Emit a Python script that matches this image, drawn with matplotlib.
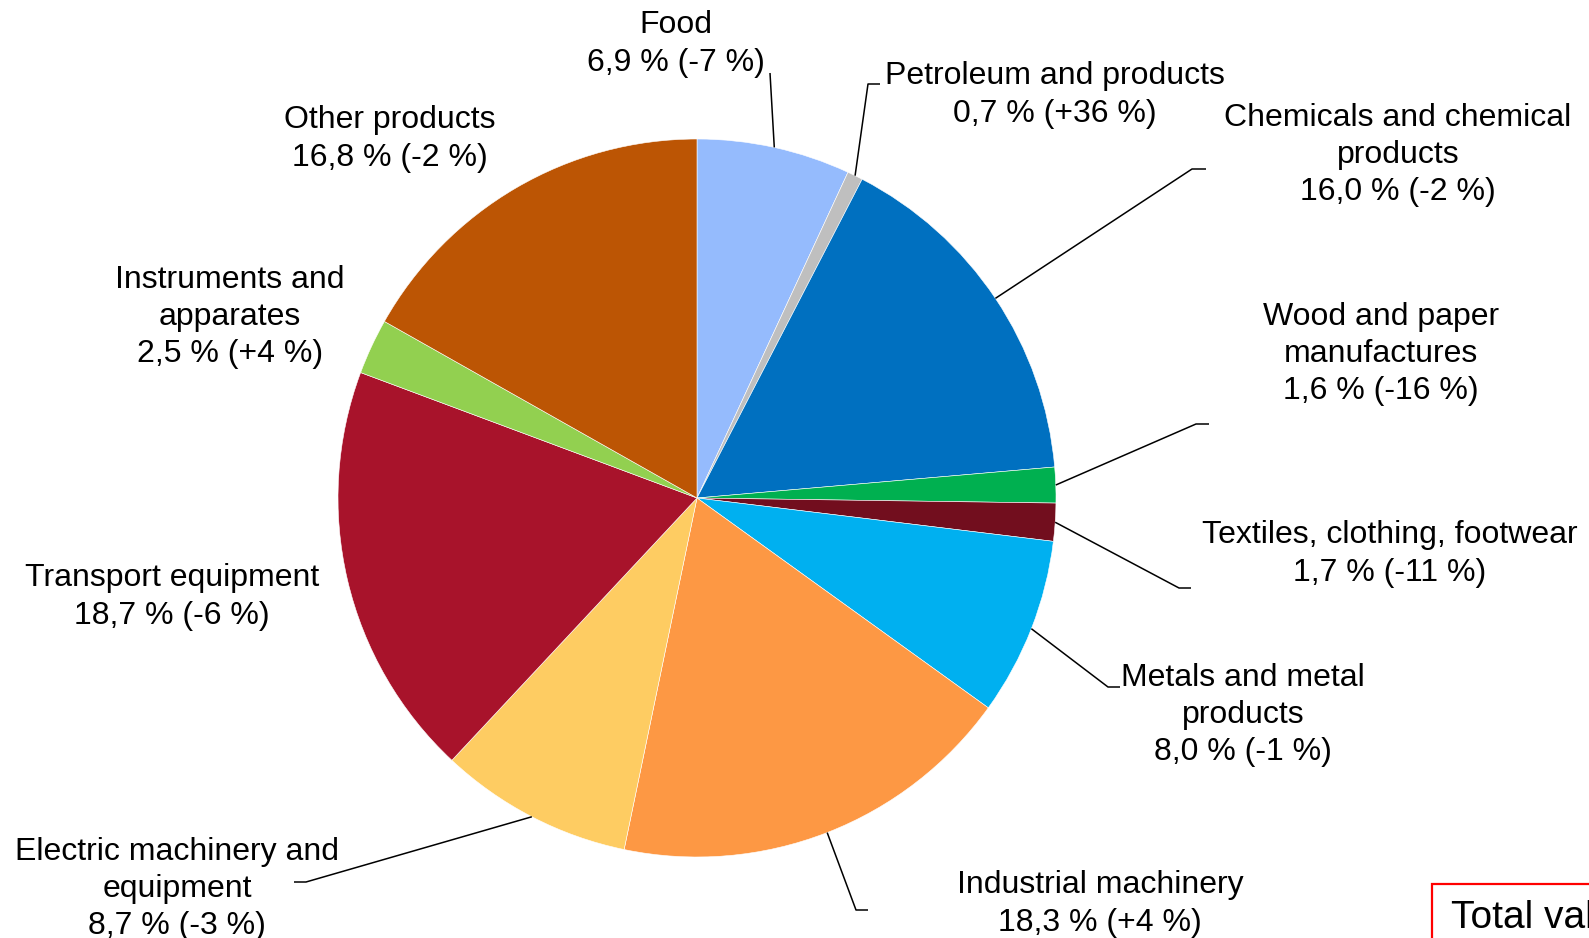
import matplotlib
matplotlib.use("Agg")
import matplotlib.pyplot as plt
from matplotlib.patches import Rectangle
import numpy as np

plt.rcParams['font.family'] = ['Liberation Sans', 'DejaVu Sans']

# Share of exports by product group, % (and change on previous year)
categories = [
    "Food", "Petroleum and products", "Chemicals and chemical\nproducts",
    "Wood and paper\nmanufactures", "Textiles, clothing, footwear",
    "Metals and metal\nproducts", "Industrial machinery",
    "Electric machinery and\nequipment", "Transport equipment",
    "Instruments and\napparates", "Other products",
]
shares = [6.9, 0.7, 16.0, 1.6, 1.7, 8.0, 18.3, 8.7, 18.7, 2.5, 16.8]
changes = [-7, 36, -2, -16, -11, -1, 4, -3, -6, 4, -2]
colors = ["#95BBFD", "#BFBFBF", "#0070C0", "#00B050", "#720E1E", "#00B0F0",
          "#FD9844", "#FECC62", "#A8132B", "#92D050", "#BC5504"]

W, H = 1589, 938
fig = plt.figure(figsize=(W / 100, H / 100), dpi=100)
ax = fig.add_axes([0, 0, 1, 1])


def Y(y):
    return H - y


cx, cy, R = 697, 498, 359
ax.pie(shares, colors=colors, startangle=90, counterclock=False,
       center=(cx, Y(cy)), radius=R, frame=True,
       wedgeprops=dict(edgecolor='white', linewidth=0.4))
ax.set_xlim(0, W)
ax.set_ylim(0, H)
ax.set_aspect('equal')
ax.axis('off')


def fmt(v):
    return f"{v:.1f}".replace('.', ',')


def sign(c):
    return f"+{c}" if c > 0 else f"{c}"


# label centre (x, y in pixels from top) and leader-line path after the arc point
label_pos = [
    (676, 44), (1055, 95), (1398, 155), (1381, 354), (1390, 554),
    (1243, 715), (1100, 904), (177, 889), (172, 597), (230, 317), (390, 139),
]
leaders = [
    [(770, 73)],
    [(868, 84), (880, 84)],
    [(1192, 169), (1206, 169)],
    [(1196, 424), (1209, 424)],
    [(1179, 588), (1191, 588)],
    [(1108, 687), (1120, 687)],
    [(856, 910), (868, 910)],
    [(306, 882), (294, 882)],
    None, None, None,
]

cum = np.cumsum([0] + shares)
total = cum[-1]
for i, name in enumerate(categories):
    mid = (cum[i] + cum[i + 1]) / 2 / total * 2 * np.pi
    px, py = cx + R * np.sin(mid), cy - R * np.cos(mid)
    if leaders[i]:
        pts = [(px, py)] + leaders[i]
        ax.plot([p[0] for p in pts], [Y(p[1]) for p in pts],
                color='black', lw=1.1, solid_capstyle='butt')
    lx, ly = label_pos[i]
    text = f"{name}\n{fmt(shares[i])} % ({sign(changes[i])} %)"
    ax.text(lx, Y(ly), text, ha='center', va='center', ma='center',
            fontsize=23, linespacing=1.31, color='black')

# Total value box at the lower-right corner
ax.add_patch(Rectangle((1432, -20), 400, Y(884) + 20, facecolor='white',
                       edgecolor='#FF0000', lw=1.6, clip_on=True))
ax.text(1451, Y(918), "Total value", ha='left', va='center', fontsize=28,
        color='black')

fig.savefig("out.png", dpi=100)
